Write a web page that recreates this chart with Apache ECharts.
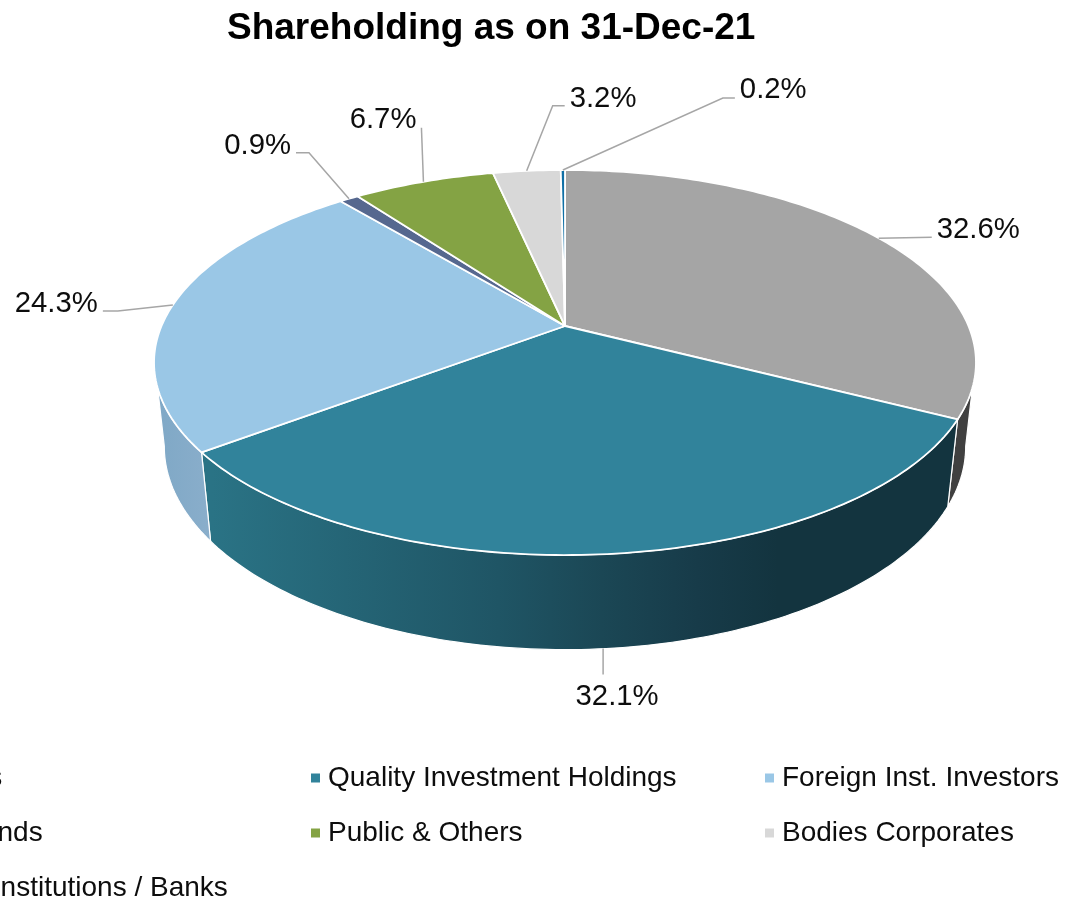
<!DOCTYPE html>
<html>
<head>
<meta charset="utf-8">
<style>html,body{margin:0;padding:0;background:#fff}#c{width:1066px;height:898px}</style>
<script src="https://cdn.jsdelivr.net/npm/echarts@6/dist/echarts.min.js"></script>
</head>
<body>
<div id="c"></div>
<script>
// ---- data ----
const titleText = 'Shareholding as on 31-Dec-21';
const categories = ['Promoters','Quality Investment Holdings','Foreign Inst. Investors','Mutual Funds','Public & Others','Bodies Corporates','Financial Institutions / Banks'];
const shareValues = [32.6,32.1,24.3,0.9,6.7,3.2,0.2];

// ---- styles ----
const topColors = ['#A5A5A5','#31839B','#9AC7E6','#56688F','#84A344','#D8D8D8','#0F6FA5'];
const FONT = '"Liberation Sans", Arial, sans-serif';
const LABEL_SIZE = 29.3, LEGEND_SIZE = 28;

// ---- projection of the tilted disc ----
const CX = 565, CY = 326, A = 403.5, B = 185.6, K = 0.1897;
const BOTTOM_SX = 0.975, BOTTOM_SY = 1.055, BOTTOM_Y = 408;
const TOP_VIS = [108.3, 251.7], BOT_VIS = [100.9, 259.1];
function rimTop(deg){
  const r = deg*Math.PI/180, u = Math.sin(r), v = Math.cos(r), w = 1 + K*v;
  return [CX + A*u/w, CY - B*v/w];
}
function rimBottom(deg){
  const p = rimTop(deg);
  return [CX + (p[0]-CX)*BOTTOM_SX, BOTTOM_Y + (p[1]-CY)*BOTTOM_SY];
}
function arc(fn, a, b){
  const pts = [], n = Math.max(2, Math.ceil(Math.abs(b-a)));
  for (let i = 0; i <= n; i++) pts.push(fn(a + (b-a)*i/n));
  return pts;
}
const wallFill = [
  '#404040',
  {type:'linear',global:true,x:212,y:0,x2:947,y2:0,colorStops:[
    {offset:0,color:'#2A7385'},{offset:0.39,color:'#1F5565'},{offset:0.53,color:'#1B4755'},
    {offset:0.66,color:'#173B49'},{offset:0.77,color:'#13343F'},{offset:1,color:'#13343F'}]},
  {type:'linear',global:true,x:156,y:0,x2:212,y2:0,colorStops:[
    {offset:0,color:'#7FA8C6'},{offset:1,color:'#8AAECB'}]},
  '#56688F','#84A344','#D8D8D8','#0F6FA5'
];

// leader layout: elbow and end offsets from the anchor on the rim, then text placement
const leaders = [
  {rim:'top', pts:[[53,-1]], tx:5, ty:-7, align:'left'},
  {rim:'bottom', pts:[[0,26]], tx:14, ty:22, align:'center', anchorFix:-3},
  {rim:'top', pts:[[-55,6],[-70,6]], tx:-5, ty:-7, align:'right'},
  {rim:'top', pts:[[-40,-46],[-53,-46]], tx:-5, ty:-7, align:'right'},
  {rim:'top', pts:[[-2,-54]], tx:-5, ty:-8, align:'right'},
  {rim:'top', pts:[[26,-65],[38,-65]], tx:5, ty:-7, align:'left'},
  {rim:'top', pts:[[160,-72],[172,-72]], tx:5, ty:-8, align:'left'}
];

const total = shareValues.reduce((s,v)=>s+v,0);
let acc = 0;
const spans = shareValues.map(v => { const a = acc/total*360; acc += v; return [a, acc/total*360]; });

function renderSlice(i){
  return function(){
    const [a,b] = spans[i], mid = (a+b)/2, children = [];
    const ta = Math.max(a,TOP_VIS[0]), tb = Math.min(b,TOP_VIS[1]);
    const ba = Math.max(a,BOT_VIS[0]), bb = Math.min(b,BOT_VIS[1]);
    if (ba < bb) {
      const upper = ta < tb ? arc(rimTop, ta, tb) : [];
      const lower = arc(rimBottom, ba, bb).reverse();
      children.push({type:'polygon', z2:1, shape:{points:upper.concat(lower)},
        style:{fill:wallFill[i], stroke:'#ffffff', lineWidth:1.2}});
    }
    children.push({type:'polygon', z2:3, shape:{points:[[CX,CY]].concat(arc(rimTop,a,b))},
      style:{fill:topColors[i], stroke:'#ffffff', lineWidth:1.8, lineJoin:'round'}});
    const L = leaders[i];
    const anchor = (L.rim === 'top' ? rimTop : rimBottom)(mid);
    anchor[0] += L.anchorFix || 0;
    const line = [anchor].concat(L.pts.map(d => [anchor[0]+d[0], anchor[1]+d[1]]));
    children.push({type:'polyline', z2:4, shape:{points:line},
      style:{fill:'none', stroke:'#A6A6A6', lineWidth:1.5}});
    const end = line[line.length-1];
    children.push({type:'text', z2:5, style:{
      x:end[0]+L.tx, y:end[1]+L.ty, text:shareValues[i].toFixed(1)+'%',
      fill:'#0D0D0D', font:LABEL_SIZE+'px '+FONT, align:L.align, verticalAlign:'middle'}});
    return {type:'group', children:children};
  };
}

const legendBase = {orient:'vertical', top:764, height:180, itemWidth:9, itemHeight:9, itemGap:27, icon:'rect',
  selectedMode:false, textStyle:{fontFamily:FONT, fontSize:LEGEND_SIZE, color:'#0D0D0D', padding:[0,0,0,3]}, padding:0};

const chart = echarts.init(document.getElementById('c'), null, {renderer:'canvas'});
chart.setOption({
  animation:false,
  backgroundColor:'#ffffff',
  title:{text:titleText, left:227, top:10, padding:0,
    textStyle:{fontFamily:FONT, fontWeight:'bold', fontSize:37, color:'#000'}},
  legend:[
    Object.assign({}, legendBase, {left:-144, data:[categories[0],categories[3],categories[6]]}),
    Object.assign({}, legendBase, {left:311, data:[categories[1],categories[4]]}),
    Object.assign({}, legendBase, {left:765, data:[categories[2],categories[5]]})
  ],
  series:categories.map((name,i)=>({
    type:'custom', name:name, coordinateSystem:'none', silent:true,
    itemStyle:{color:topColors[i]},
    renderItem:renderSlice(i),
    data:[shareValues[i]]
  }))
});
</script>
</body>
</html>
